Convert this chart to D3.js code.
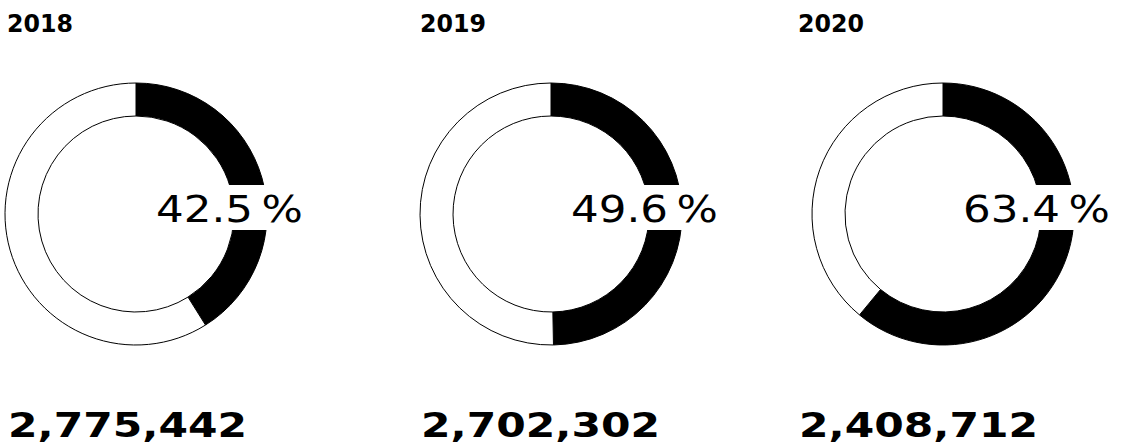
<!DOCTYPE html>
<html>
<head>
<meta charset="utf-8">
<script src="https://cdn.jsdelivr.net/npm/d3@7"></script>
<style>
  html, body { margin: 0; padding: 0; background: #fff; }
  svg { display: block; }
  text { font-family: "DejaVu Sans", Verdana, sans-serif; fill: #000; }
</style>
</head>
<body>
<svg id="chart" width="1130" height="446"></svg>
<script>
// ---- data ----
const years = ["2018", "2019", "2020"];
const shareLabels = [42.5, 49.6, 63.4];        // printed percentages
const arcShares = [41.1, 49.7, 61.0];          // arc extent as drawn in the picture (percent)
const totals = [2775442, 2702302, 2408712];    // big numbers below

// ---- layout (positions only) ----
const colLeft = [7, 420, 798];
const centerX = [136, 551, 943];
const centerY = 214;
const rOuter = 131, rInner = 98;

const svg = d3.select("#chart");
const pie = d3.pie().sort(null).value(d => d);
const arc = d3.arc().innerRadius(rInner).outerRadius(rOuter);
const fmtPct = d3.format(".1f");
const fmtNum = d3.format(",");

years.forEach((yr, i) => {
  const g = svg.append("g");

  // title
  g.append("text")
    .attr("x", colLeft[i])
    .attr("y", 32)
    .attr("font-size", 25)
    .attr("font-weight", "bold")
    .attr("textLength", 66)
    .attr("lengthAdjust", "spacingAndGlyphs")
    .text(yr);

  // donut
  const donut = g.append("g").attr("transform", `translate(${centerX[i]},${centerY})`);
  const arcs = pie([arcShares[i], 100 - arcShares[i]]);
  donut.selectAll("path")
    .data(arcs)
    .join("path")
    .attr("d", arc)
    .attr("fill", (d, j) => j === 0 ? "#000" : "#fff")
    .attr("stroke", "#000")
    .attr("stroke-width", 1);

  // percent label with white backing
  const lx = centerX[i] + 20;
  const label = g.append("g");
  label.append("rect")
    .attr("x", lx - 4)
    .attr("y", 185)
    .attr("width", 155)
    .attr("height", 45)
    .attr("fill", "#fff");
  label.append("text")
    .attr("x", lx)
    .attr("y", 222)
    .attr("font-size", 37)
    .attr("textLength", 147)
    .attr("lengthAdjust", "spacingAndGlyphs")
    .text(fmtPct(shareLabels[i]) + "\u2009%");

  // total
  g.append("text")
    .attr("x", colLeft[i] + 1)
    .attr("y", 437)
    .attr("font-size", 34)
    .attr("font-weight", "bold")
    .attr("textLength", 239)
    .attr("lengthAdjust", "spacingAndGlyphs")
    .text(fmtNum(totals[i]));
});
</script>
</body>
</html>
